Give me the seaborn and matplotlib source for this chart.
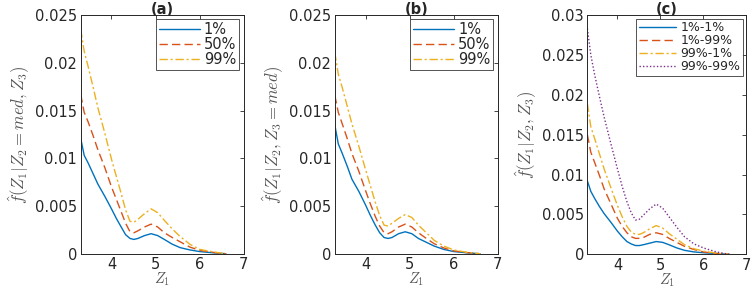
import numpy as np
import pandas as pd
import seaborn as sns
import matplotlib.pyplot as plt
from matplotlib.ticker import FuncFormatter

# grid of Z1 values the curves were read at
z1 = [3.3, 3.38, 3.47, 3.58, 3.69, 3.85, 4.0, 4.11, 4.22, 4.32, 4.42, 4.51,
      4.6, 4.75, 4.9, 5.05, 5.2, 5.38, 5.56, 5.78, 6.0, 6.3, 6.6]

# (a) f(Z1 | Z2 = med, Z3)
a_1 = [0.0121, 0.0103, 0.0095, 0.0084, 0.0073, 0.0060, 0.0047, 0.0037, 0.0028, 0.0020, 0.0016, 0.0015,
       0.0016, 0.0019, 0.0021, 0.0019, 0.0015, 0.0010, 0.00064, 0.0004, 0.00023, 0.0001, 0.0]
a_50 = [0.0167, 0.0148, 0.0138, 0.0124, 0.0109, 0.0090, 0.0070, 0.0057, 0.0044, 0.0032, 0.0023, 0.0022,
        0.0024, 0.0028, 0.0031, 0.0028, 0.0022, 0.0017, 0.00125, 0.0007, 0.00036, 0.00015, 0.0]
a_99 = [0.0235, 0.0212, 0.0196, 0.0175, 0.0153, 0.0126, 0.0099, 0.0081, 0.0063, 0.0046, 0.0034, 0.0033,
        0.0036, 0.0042, 0.0047, 0.0043, 0.0035, 0.0026, 0.0018, 0.0010, 0.00046, 0.0002, 0.0]

# (b) f(Z1 | Z2, Z3 = med)
b_1 = [0.0135, 0.0115, 0.0105, 0.0092, 0.0078, 0.0065, 0.0051, 0.0040, 0.0030, 0.0022, 0.0017, 0.0016,
       0.0017, 0.0021, 0.0023, 0.0021, 0.0016, 0.0012, 0.0008, 0.00045, 0.00023, 0.0001, 0.0]
b_50 = [0.0166, 0.0148, 0.0136, 0.0121, 0.0105, 0.0086, 0.0066, 0.0052, 0.0039, 0.0029, 0.0022, 0.0021,
        0.0023, 0.0028, 0.0031, 0.0028, 0.0022, 0.0016, 0.00105, 0.0006, 0.0003, 0.00012, 0.0]
b_99 = [0.0211, 0.0188, 0.0174, 0.0155, 0.0136, 0.0112, 0.0088, 0.0071, 0.0054, 0.0040, 0.0030, 0.0029,
        0.0032, 0.0037, 0.0041, 0.0038, 0.0030, 0.0022, 0.0014, 0.0008, 0.0004, 0.00015, 0.0]

# (c) f(Z1 | Z2, Z3)
c_1_1 = [0.0092, 0.0079, 0.0070, 0.0060, 0.0051, 0.0040, 0.0029, 0.0022, 0.0016, 0.0013, 0.0011, 0.0011,
         0.0012, 0.0014, 0.0016, 0.0015, 0.0012, 0.0008, 0.0005, 0.0003, 0.0002, 0.0001, 0.0]
c_1_99 = [0.0150, 0.0128, 0.0115, 0.0099, 0.0082, 0.0063, 0.0045, 0.0035, 0.0027, 0.0022, 0.0020, 0.0020,
          0.0021, 0.0025, 0.0027, 0.0025, 0.0020, 0.0015, 0.0010, 0.0006, 0.0003, 0.0001, 0.0]
c_99_1 = [0.0189, 0.0160, 0.0145, 0.0126, 0.0107, 0.0083, 0.0061, 0.0047, 0.0035, 0.0028, 0.0025, 0.0025,
          0.0027, 0.0032, 0.0036, 0.0033, 0.0026, 0.0019, 0.0012, 0.0007, 0.0004, 0.00015, 0.0]
c_99_99 = [0.0283, 0.0250, 0.0225, 0.0198, 0.0172, 0.0138, 0.0107, 0.0085, 0.0066, 0.0052, 0.0043, 0.0044,
           0.0049, 0.0057, 0.0063, 0.0058, 0.0047, 0.0034, 0.0022, 0.0013, 0.0008, 0.0003, 0.0]

colors = ['#0072BD', '#D95319', '#EDB120', '#7E2F8E']
styles = ['-', (0, (6, 3)), (0, (6, 2, 1.5, 2)), (0, (1, 1.5))]

sns.set_style("white")
plt.rcParams['font.family'] = ['DejaVu Sans']
plt.rcParams['mathtext.fontset'] = 'cm'

panels = [
    ('(a)', [a_1, a_50, a_99], ['1%', '50%', '99%'], r'$\hat{f}(Z_1|Z_2=med,Z_3)$', 0.025, 0.005),
    ('(b)', [b_1, b_50, b_99], ['1%', '50%', '99%'], r'$\hat{f}(Z_1|Z_2,Z_3=med)$', 0.025, 0.005),
    ('(c)', [c_1_1, c_1_99, c_99_1, c_99_99], ['1%-1%', '1%-99%', '99%-1%', '99%-99%'],
     r'$\hat{f}(Z_1|Z_2,Z_3)$', 0.03, 0.005),
]
positions = [[0.107, 0.122, 0.216, 0.826],
             [0.444, 0.122, 0.216, 0.826],
             [0.779, 0.120, 0.211, 0.828]]

fig = plt.figure(figsize=(7.54, 2.89), dpi=100)
for (title, series, labels, ylab, ymax, step), pos in zip(panels, positions):
    ax = fig.add_axes(pos)
    for i, (vals, lab) in enumerate(zip(series, labels)):
        df = pd.DataFrame({'z1': z1, 'f': vals})
        sns.lineplot(data=df, x='z1', y='f', ax=ax, color=colors[i], linestyle=styles[i],
                     linewidth=1.0, label=lab)
    ax.set_xlim(3.3, 7)
    ax.set_ylim(0, ymax)
    ax.set_xticks([4, 5, 6, 7])
    ax.set_yticks(np.arange(0, ymax + 1e-9, step))
    ax.yaxis.set_major_formatter(FuncFormatter(lambda v, p: '%g' % round(v, 4)))
    ax.tick_params(direction='in', length=3, width=0.6, top=True, right=True,
                   labelsize=10.5, colors='#262626', pad=2.5)
    for s in ax.spines.values():
        s.set_color('#262626')
        s.set_linewidth(0.7)
    ax.set_xlabel(r'$Z_1$', fontsize=10.5, color='#555555', labelpad=-1)
    ax.set_ylabel(ylab, fontsize=12, color='#555555', labelpad=2)
    ax.set_title(title, fontsize=10.5, fontweight='bold', pad=1)
    three = len(labels) == 3
    leg = ax.legend(loc='upper right', fontsize=10.5 if three else 9,
                    frameon=True, fancybox=False, borderaxespad=0.3,
                    handlelength=2.8 if three else 3.0, labelspacing=0.0,
                    borderpad=0.2, handletextpad=0.3)
    leg.get_frame().set_edgecolor('#262626')
    leg.get_frame().set_linewidth(0.7)

fig.savefig('out.png', dpi=100)
